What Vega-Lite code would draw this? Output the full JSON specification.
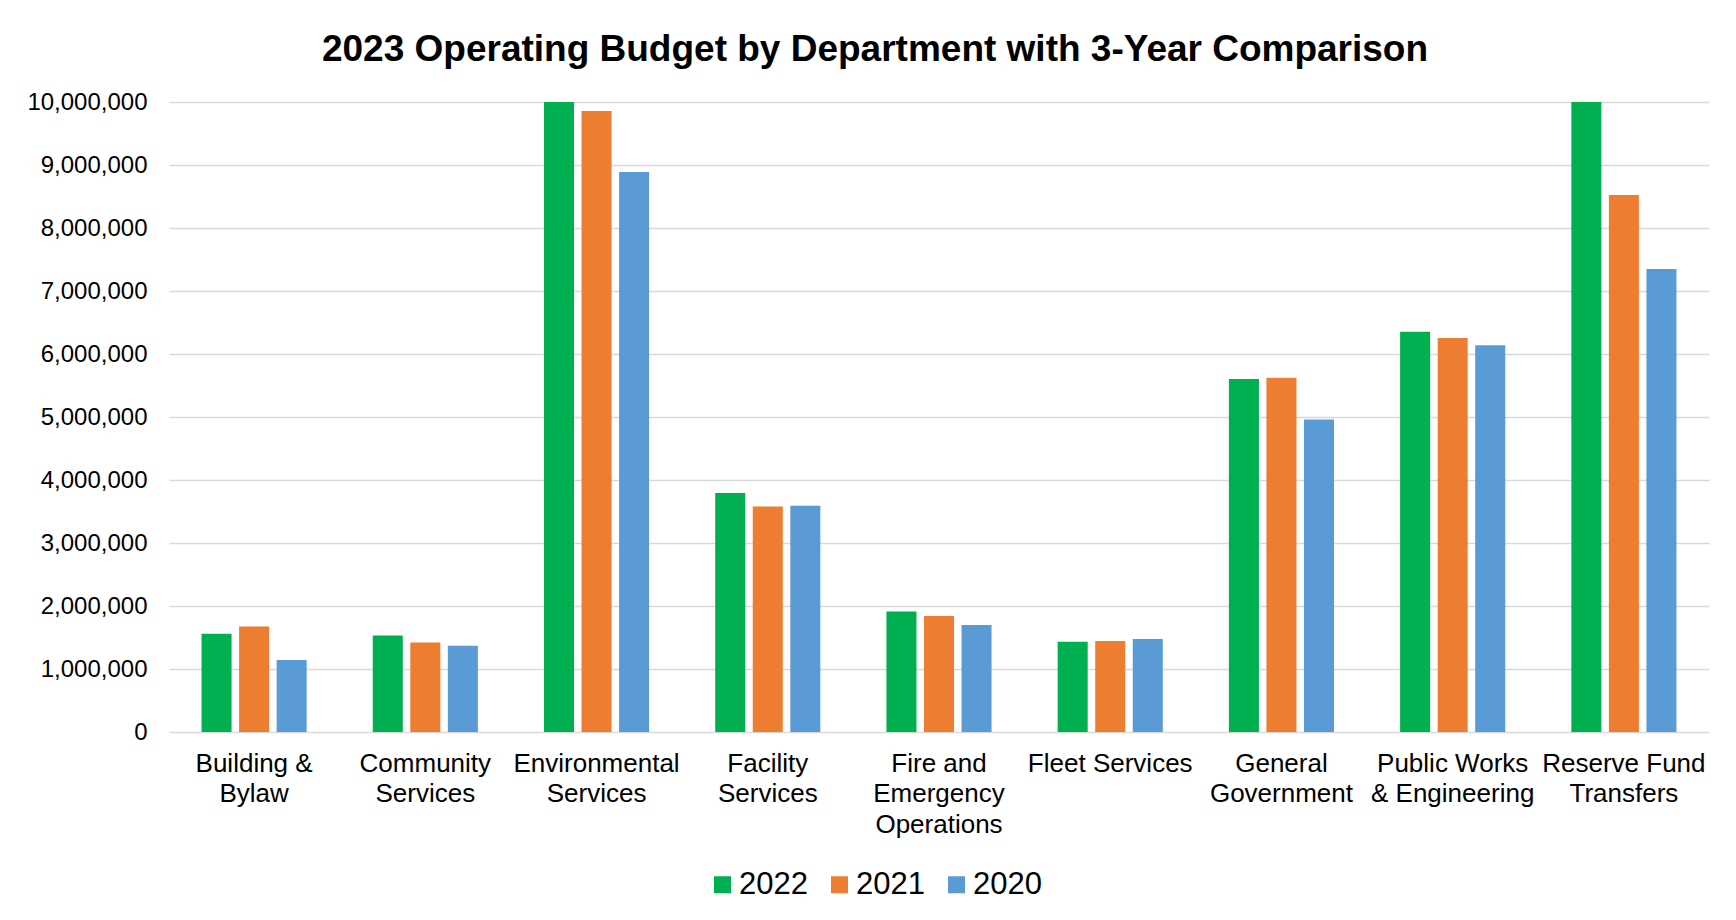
{
  "$schema": "https://vega.github.io/schema/vega-lite/v6.json",
  "width": 1540,
  "height": 630,
  "autosize": {"type": "none"},
  "padding": {"left": 169, "top": 102, "right": 27, "bottom": 188},
  "background": "white",
  "title": {
    "text": "2023 Operating Budget by Department with 3-Year Comparison",
    "font": "Liberation Sans",
    "fontSize": 37,
    "fontWeight": "bold",
    "color": "black",
    "anchor": "middle",
    "frame": "group",
    "dx": -64,
    "offset": 21
  },
  "data": {
    "values": [
      {"department": "Building & Bylaw", "year": "2022", "budget": 1560000},
      {"department": "Building & Bylaw", "year": "2021", "budget": 1676000},
      {"department": "Building & Bylaw", "year": "2020", "budget": 1143000},
      {"department": "Community Services", "year": "2022", "budget": 1533000},
      {"department": "Community Services", "year": "2021", "budget": 1422000},
      {"department": "Community Services", "year": "2020", "budget": 1370000},
      {"department": "Environmental Services", "year": "2022", "budget": 10000000},
      {"department": "Environmental Services", "year": "2021", "budget": 9857000},
      {"department": "Environmental Services", "year": "2020", "budget": 8889000},
      {"department": "Facility Services", "year": "2022", "budget": 3793000},
      {"department": "Facility Services", "year": "2021", "budget": 3580000},
      {"department": "Facility Services", "year": "2020", "budget": 3590000},
      {"department": "Fire and Emergency Operations", "year": "2022", "budget": 1914000},
      {"department": "Fire and Emergency Operations", "year": "2021", "budget": 1841000},
      {"department": "Fire and Emergency Operations", "year": "2020", "budget": 1698000},
      {"department": "Fleet Services", "year": "2022", "budget": 1433000},
      {"department": "Fleet Services", "year": "2021", "budget": 1444000},
      {"department": "Fleet Services", "year": "2020", "budget": 1476000},
      {"department": "General Government", "year": "2022", "budget": 5603000},
      {"department": "General Government", "year": "2021", "budget": 5624000},
      {"department": "General Government", "year": "2020", "budget": 4962000},
      {"department": "Public Works & Engineering", "year": "2022", "budget": 6354000},
      {"department": "Public Works & Engineering", "year": "2021", "budget": 6254000},
      {"department": "Public Works & Engineering", "year": "2020", "budget": 6137000},
      {"department": "Reserve Fund Transfers", "year": "2022", "budget": 10000000},
      {"department": "Reserve Fund Transfers", "year": "2021", "budget": 8524000},
      {"department": "Reserve Fund Transfers", "year": "2020", "budget": 7350000}
    ]
  },
  "mark": {"type": "bar"},
  "encoding": {
    "x": {
      "field": "department",
      "type": "nominal",
      "sort": null,
      "scale": {"paddingInner": 0.386, "paddingOuter": 0.19},
      "axis": {
        "title": null,
        "labelAngle": 0,
        "labelFont": "Liberation Sans",
        "labelFontSize": 26,
        "labelColor": "black",
        "labelPadding": 18,
        "labelLineHeight": 30.5,
        "labelLimit": 400,
        "labelOverlap": false,
        "labelBound": false,
        "ticks": false,
        "domain": false,
        "labelExpr": "datum.value == 'Building & Bylaw' ? ['Building &', 'Bylaw'] : datum.value == 'Fire and Emergency Operations' ? ['Fire and', 'Emergency', 'Operations'] : datum.value == 'Public Works & Engineering' ? ['Public Works', '& Engineering'] : datum.value == 'Reserve Fund Transfers' ? ['Reserve Fund', 'Transfers'] : datum.value == 'Fleet Services' ? datum.value : split(datum.value, ' ')"
      }
    },
    "xOffset": {
      "field": "year",
      "type": "nominal",
      "sort": ["2022", "2021", "2020"],
      "scale": {"paddingInner": 0.2, "paddingOuter": 0}
    },
    "y": {
      "field": "budget",
      "type": "quantitative",
      "scale": {"domain": [0, 10000000]},
      "axis": {
        "title": null,
        "values": [0, 1000000, 2000000, 3000000, 4000000, 5000000, 6000000, 7000000, 8000000, 9000000, 10000000],
        "format": ",d",
        "labelFont": "Liberation Sans",
        "labelFontSize": 24,
        "labelColor": "black",
        "labelPadding": 22,
        "ticks": false,
        "domain": false,
        "grid": true,
        "gridColor": "#d9d9d9",
        "gridWidth": 1.5
      }
    },
    "color": {
      "field": "year",
      "type": "nominal",
      "scale": {"domain": ["2022", "2021", "2020"], "range": ["#00b050", "#ed7d31", "#5b9bd5"]},
      "legend": {
        "title": null,
        "orient": "none",
        "legendX": 538,
        "legendY": 767,
        "direction": "horizontal",
        "symbolType": "square",
        "symbolSize": 289,
        "symbolStrokeWidth": 0,
        "labelFont": "Liberation Sans",
        "labelFontSize": 31,
        "labelColor": "black",
        "labelOffset": 1,
        "columnPadding": 16,
        "padding": 0
      }
    }
  },
  "config": {"view": {"stroke": null}}
}
